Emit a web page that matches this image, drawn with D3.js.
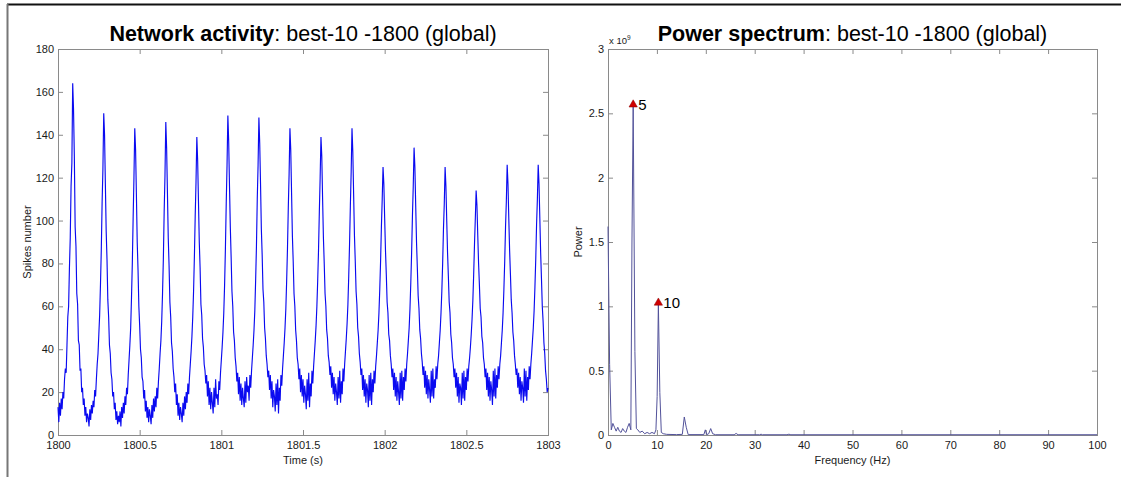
<!DOCTYPE html>
<html>
<head>
<meta charset="utf-8">
<script src="https://cdn.jsdelivr.net/npm/d3@7"></script>
<style>
    body { margin: 0; background: #fff; }
    svg text { font-family: "Liberation Sans", Arial, Helvetica, sans-serif; }
</style>
</head>
<body>
<svg id="chart" width="1121" height="477"></svg>
<script>
// ---- data ----
// spike counts, one value every 5 ms starting at 1800 s
const timeStart = 1800;
const timeStep = 0.005;
const spikeCounts = [
    13, 6, 15, 9, 17, 12, 20, 17, 26, 31, 29, 42, 55, 60, 78, 92, 116, 127, 164, 152, 130, 97, 88, 66, 61, 44, 42, 30, 31, 20, 22, 14, 17, 9, 13, 6, 10,
    8, 4, 12, 7, 14, 10, 16, 13, 21, 18, 26, 33, 38, 47, 56, 70, 86, 108, 124, 150, 140, 117, 95, 82, 63, 55, 42, 38, 29, 26, 18, 20, 12, 15, 7, 11, 5, 9,
    6, 11, 4, 13, 8, 15, 10, 18, 14, 22, 19, 28, 35, 42, 50, 64, 80, 101, 120, 143, 133, 112, 90, 77, 60, 51, 40, 36, 27, 25, 17, 21, 11, 16, 8, 13, 6, 12,
    9, 5, 14, 8, 17, 11, 18, 13, 22, 17, 25, 31, 38, 44, 53, 66, 82, 104, 121, 146, 134, 113, 92, 79, 62, 55, 43, 39, 31, 27, 20, 24, 14, 19, 9, 15, 7, 13,
    10, 6, 15, 9, 18, 12, 20, 15, 24, 19, 27, 33, 39, 46, 55, 67, 83, 102, 118, 139, 128, 109, 90, 78, 61, 56, 45, 41, 33, 30, 24, 28, 18, 25, 14, 22, 12, 20,
    15, 10, 22, 13, 26, 17, 19, 14, 25, 21, 29, 35, 41, 48, 57, 70, 87, 108, 126, 149, 137, 116, 97, 83, 67, 60, 48, 44, 36, 32, 25, 29, 19, 27, 16, 24, 14, 22,
    17, 13, 25, 15, 27, 20, 23, 16, 28, 22, 30, 36, 42, 49, 58, 72, 88, 110, 126, 148, 136, 117, 96, 84, 68, 62, 50, 45, 37, 33, 27, 30, 21, 28, 17, 25, 13, 21,
    18, 11, 24, 14, 26, 10, 22, 16, 28, 23, 31, 37, 43, 50, 59, 72, 87, 106, 122, 143, 133, 113, 93, 81, 66, 60, 49, 44, 36, 33, 26, 31, 20, 28, 18, 26, 15, 23,
    19, 12, 26, 16, 29, 13, 24, 18, 30, 24, 32, 38, 44, 51, 60, 72, 86, 104, 120, 139, 130, 110, 92, 80, 66, 60, 49, 45, 37, 34, 28, 32, 22, 29, 19, 27, 16, 24,
    20, 14, 27, 17, 30, 15, 25, 19, 31, 25, 33, 39, 45, 52, 61, 74, 89, 107, 123, 143, 132, 112, 93, 81, 67, 61, 50, 46, 38, 34, 28, 31, 21, 28, 18, 26, 15, 24,
    21, 13, 28, 16, 29, 14, 26, 20, 30, 24, 32, 37, 43, 49, 57, 68, 81, 97, 110, 125, 117, 101, 86, 75, 62, 57, 47, 44, 37, 33, 27, 31, 21, 29, 18, 27, 16, 25,
    20, 14, 29, 17, 30, 16, 27, 21, 31, 25, 33, 38, 44, 50, 59, 71, 85, 102, 116, 134, 125, 107, 90, 78, 65, 59, 49, 45, 38, 34, 28, 32, 22, 30, 19, 28, 17, 26,
    21, 15, 30, 18, 31, 17, 26, 22, 32, 26, 33, 37, 43, 49, 57, 67, 80, 96, 108, 125, 116, 100, 85, 74, 62, 57, 47, 43, 36, 33, 27, 31, 22, 29, 18, 27, 15, 24,
    22, 14, 29, 17, 30, 16, 27, 21, 31, 25, 32, 36, 41, 47, 54, 63, 75, 89, 101, 114, 107, 93, 80, 70, 59, 55, 46, 43, 36, 33, 27, 31, 21, 29, 18, 27, 16, 25,
    21, 14, 30, 18, 31, 17, 28, 22, 32, 26, 33, 37, 43, 49, 57, 68, 81, 97, 109, 126, 117, 101, 86, 75, 63, 57, 48, 44, 37, 33, 28, 31, 22, 29, 19, 27, 16, 25,
    22, 15, 31, 18, 30, 16, 27, 21, 32, 26, 33, 38, 44, 50, 58, 69, 82, 98, 110, 126, 117, 101, 85, 73, 60, 53, 43, 38, 30, 26, 20, 22
];
const timeTicks = [1800, 1800.5, 1801, 1801.5, 1802, 1802.5, 1803];
const spikeTicks = [0, 20, 40, 60, 80, 100, 120, 140, 160, 180];

// power spectrum (power in units of 1e9)
const specFreq = [0, 0.33, 0.67, 1, 1.33, 1.67, 2, 2.33, 2.67, 3, 3.33, 3.67, 4, 4.33, 4.67, 4.9, 5.15, 5.5, 5.8, 6.1,
    6.5, 7, 7.5, 8, 8.5, 9, 9.5, 9.8, 10.05, 10.3, 10.6, 10.9, 11.3, 12, 14, 15.2, 15.6, 16, 16.4, 19.6,
    19.9, 20.2, 20.6, 21, 21.4, 22, 25.8, 26.2, 26.6, 31, 31.3, 31.6, 36.6, 37, 37.4, 100];
const specPower = [1.62, 0.55, 0.04, 0.09, 0.06, 0.03, 0.06, 0.03, 0.02, 0.05, 0.03, 0.02, 0.06, 0.09, 0.04, 1.5, 2.56, 0.65, 0.05, 0.04,
    0.02, 0.03, 0.01, 0.02, 0.01, 0.02, 0.01, 0.04, 0.3, 1.02, 0.33, 0.02, 0.01, 0.005, 0.003, 0.005, 0.14, 0.06, 0.003, 0.003,
    0.04, 0.003, 0.01, 0.05, 0.01, 0.002, 0.002, 0.012, 0.002, 0.002, 0.006, 0.002, 0.002, 0.006, 0.002, 0.002];
const freqTicks = [0, 10, 20, 30, 40, 50, 60, 70, 80, 90, 100];
const powerTicks = [0, 0.5, 1, 1.5, 2, 2.5, 3];
const peakFreq = [5.15, 10.3];
const peakPower = [2.56, 1.02];
const peakLabel = ["5", "10"];

// ---- layout ----
const svg = d3.select("#chart");
const plotTop = 49, plotBottom = 435;
const leftBox = {x0: 58, x1: 548};
const rightBox = {x0: 608, x1: 1097};
const fontFam = '"Liberation Sans", Arial, Helvetica, sans-serif';
const boxColor = "#8a8a8a";

// outer frame
svg.append("line").attr("x1", 7).attr("x2", 1121).attr("y1", 4.5).attr("y2", 4.5)
    .attr("stroke", "#111").attr("stroke-width", 2);
svg.append("line").attr("x1", 7.5).attr("x2", 7.5).attr("y1", 4).attr("y2", 477)
    .attr("stroke", "#777").attr("stroke-width", 2);

function drawAxes(x, y, xTicks, yTicks, yFmt) {
    let g = svg.append("g");
    let styleAxis = function (sel) {
        sel.attr("font-family", fontFam).attr("font-size", 11);
        sel.select(".domain").remove();
        sel.selectAll(".tick line").attr("stroke", boxColor);
        sel.selectAll(".tick text").attr("fill", "#1a1a1a");
    };
    g.append("g").attr("transform", "translate(0," + plotBottom + ")")
        .call(d3.axisBottom(x).tickValues(xTicks).tickSizeInner(-5).tickSizeOuter(0).tickPadding(6).tickFormat(d3.format("")))
        .call(styleAxis);
    g.append("g").attr("transform", "translate(0," + plotTop + ")")
        .call(d3.axisTop(x).tickValues(xTicks).tickSizeInner(-5).tickSizeOuter(0).tickFormat(""))
        .call(styleAxis);
    g.append("g").attr("transform", "translate(" + x.range()[0] + ",0)")
        .call(d3.axisLeft(y).tickValues(yTicks).tickSizeInner(-5).tickSizeOuter(0).tickPadding(4).tickFormat(yFmt))
        .call(styleAxis);
    g.append("g").attr("transform", "translate(" + x.range()[1] + ",0)")
        .call(d3.axisRight(y).tickValues(yTicks).tickSizeInner(-5).tickSizeOuter(0).tickFormat(""))
        .call(styleAxis);
    g.append("rect")
        .attr("x", x.range()[0] + 0.5).attr("y", plotTop + 0.5)
        .attr("width", x.range()[1] - x.range()[0]).attr("height", plotBottom - plotTop)
        .attr("fill", "none").attr("stroke", boxColor);
    return g;
}

function drawTitle(cx, boldPart, rest) {
    let t = svg.append("text").attr("x", cx).attr("y", 41)
        .attr("text-anchor", "middle").attr("font-size", 21.5).attr("fill", "#000");
    t.append("tspan").attr("font-weight", "bold").text(boldPart);
    t.append("tspan").text(rest);
}

// ---- left: network activity ----
let xTime = d3.scaleLinear().domain([1800, 1803]).range([leftBox.x0, leftBox.x1]);
let ySpikes = d3.scaleLinear().domain([0, 180]).range([plotBottom, plotTop]);

drawAxes(xTime, ySpikes, timeTicks, spikeTicks, d3.format(""));

let spikeLine = d3.line()
    .x((d, i) => xTime(timeStart + i * timeStep))
    .y(d => ySpikes(d));

svg.append("path")
    .datum(spikeCounts)
    .attr("d", spikeLine)
    .attr("fill", "none")
    .attr("stroke", "#0a0af0")
    .attr("stroke-width", 1.15);

drawTitle((leftBox.x0 + leftBox.x1) / 2, "Network activity", ": best-10 -1800 (global)");

svg.append("text")
    .attr("transform", "translate(31," + ((plotTop + plotBottom) / 2) + ") rotate(-90)")
    .attr("text-anchor", "middle").attr("font-size", 11).attr("fill", "#1a1a1a")
    .text("Spikes number");
svg.append("text")
    .attr("x", (leftBox.x0 + leftBox.x1) / 2).attr("y", 464)
    .attr("text-anchor", "middle").attr("font-size", 11).attr("fill", "#1a1a1a")
    .text("Time (s)");

// ---- right: power spectrum ----
let xFreq = d3.scaleLinear().domain([0, 100]).range([rightBox.x0, rightBox.x1]);
let yPower = d3.scaleLinear().domain([0, 3]).range([plotBottom, plotTop]);

drawAxes(xFreq, yPower, freqTicks, powerTicks, d3.format(""));

let specLine = d3.line()
    .x((d, i) => xFreq(specFreq[i]))
    .y(d => yPower(d));

svg.append("path")
    .datum(specPower)
    .attr("d", specLine)
    .attr("fill", "none")
    .attr("stroke", "#52529a")
    .attr("stroke-width", 1);

peakFreq.forEach(function (f, i) {
    let px = xFreq(f), py = yPower(peakPower[i]);
    svg.append("path")
        .attr("d", d3.symbol(d3.symbolTriangle, 30)())
        .attr("transform", "translate(" + px + "," + (py - 1) + ")")
        .attr("fill", "#d00000").attr("stroke", "#8b0000").attr("stroke-width", 0.5);
    svg.append("text")
        .attr("x", px + 5).attr("y", py + 4)
        .attr("font-size", 15).attr("fill", "#000")
        .text(peakLabel[i]);
});

// exponent above the y axis
let expo = svg.append("text").attr("x", rightBox.x0 + 1).attr("y", 44)
    .attr("font-size", 9.5).attr("fill", "#1a1a1a");
expo.append("tspan").text("x 10");
expo.append("tspan").attr("dy", -4).attr("font-size", 6.5).text("9");

drawTitle((rightBox.x0 + rightBox.x1) / 2, "Power spectrum", ": best-10 -1800 (global)");

svg.append("text")
    .attr("transform", "translate(582," + ((plotTop + plotBottom) / 2) + ") rotate(-90)")
    .attr("text-anchor", "middle").attr("font-size", 11).attr("fill", "#1a1a1a")
    .text("Power");
svg.append("text")
    .attr("x", (rightBox.x0 + rightBox.x1) / 2).attr("y", 464)
    .attr("text-anchor", "middle").attr("font-size", 11).attr("fill", "#1a1a1a")
    .text("Frequency (Hz)");
</script>
</body>
</html>
